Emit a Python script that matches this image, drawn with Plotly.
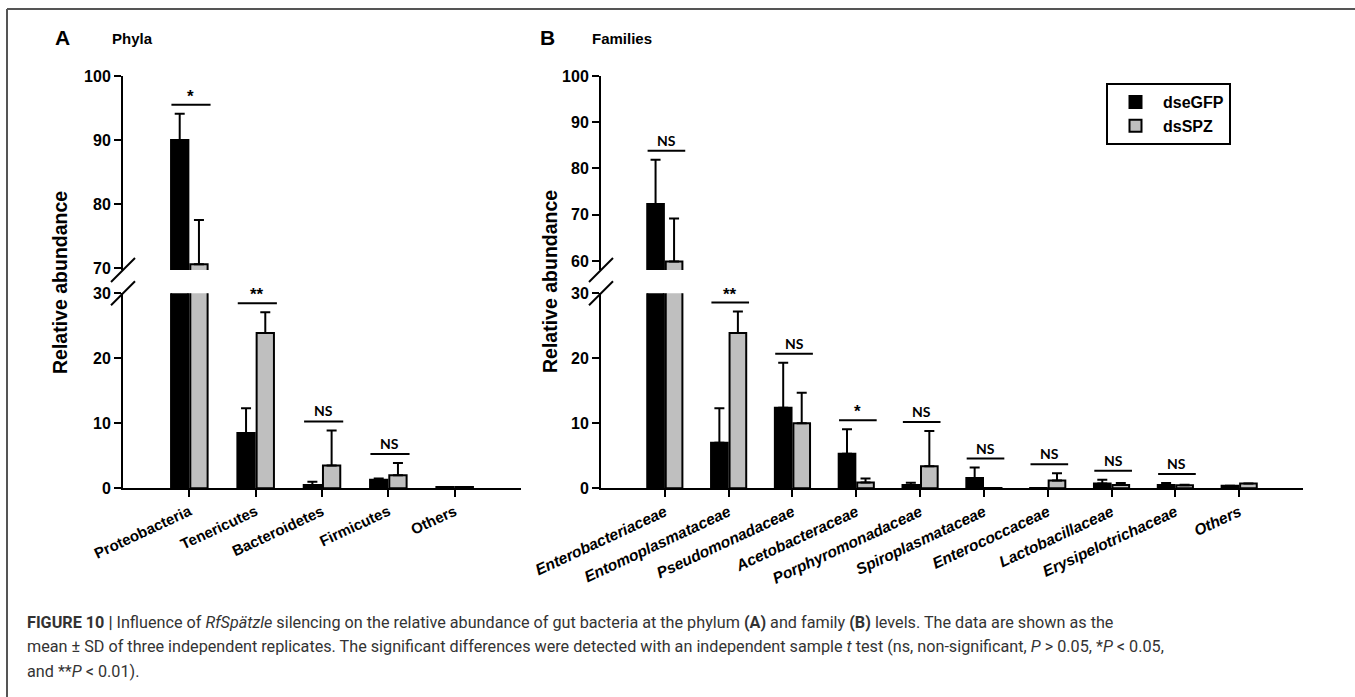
import plotly.graph_objects as go

# ---------------- data ----------------
phyla = ["Proteobacteria", "Tenericutes", "Bacteroidetes", "Firmicutes", "Others"]
phyla_gfp = [90.0, 8.5, 0.5, 1.3, 0.2]
phyla_gfp_sd = [4.1, 3.8, 0.5, 0.2, 0.0]
phyla_spz = [70.6, 23.9, 3.5, 2.0, 0.2]
phyla_spz_sd = [6.9, 3.2, 5.4, 1.9, 0.0]
phyla_sig = ["*", "**", "NS", "NS", ""]

families = ["Enterobacteriaceae", "Entomoplasmataceae", "Pseudomonadaceae",
            "Acetobacteraceae", "Porphyromonadaceae", "Spiroplasmataceae",
            "Enterococcaceae", "Lactobacillaceae", "Erysipelotrichaceae", "Others"]
fam_gfp = [72.3, 7.0, 12.4, 5.3, 0.5, 1.6, 0.05, 0.75, 0.5, 0.4]
fam_gfp_sd = [9.6, 5.3, 6.9, 3.8, 0.35, 1.6, 0.0, 0.55, 0.3, 0.0]
fam_spz = [59.9, 23.9, 10.0, 0.9, 3.4, 0.05, 1.2, 0.5, 0.45, 0.75]
fam_spz_sd = [9.3, 3.3, 4.7, 0.6, 5.4, 0.0, 1.1, 0.3, 0.1, 0.0]
fam_sig = ["NS", "**", "NS", "*", "NS", "NS", "NS", "NS", "NS", ""]

lower_ticks = [0, 10, 20, 30]
upper_ticks_a = [70, 80, 90, 100]
upper_ticks_b = [60, 70, 80, 90, 100]

# ---------------- layout helpers ----------------
W, H = 1355, 697
def px(v):
    return v / W
def py(v):
    return 1 - v / H

FONT = "Liberation Sans, Arial, sans-serif"
BLACK = "#000000"
GRAY = "#bfbfbf"

fig = go.Figure()

def add_bars(xa, ya, cats, gfp, gfp_sd, spz, spz_sd, legend):
    for name, vals, sd, color in [("dseGFP", gfp, gfp_sd, BLACK),
                                  ("dsSPZ", spz, spz_sd, GRAY)]:
        fig.add_trace(go.Bar(
            x=cats, y=vals, name=name, xaxis=xa, yaxis=ya,
            marker=dict(color=color, line=dict(color=BLACK, width=2)),
            error_y=dict(type="data", symmetric=False, array=sd,
                         arrayminus=[0] * len(sd), color=BLACK,
                         thickness=2, width=5),
            showlegend=legend, legendgroup=name, offsetgroup=name,
            hoverinfo="x+y+name"))

# panel A: lower and upper segments of the broken axis
add_bars("x", "y", phyla, phyla_gfp, phyla_gfp_sd, phyla_spz, phyla_spz_sd, True)
add_bars("x", "y2", phyla, phyla_gfp, phyla_gfp_sd, phyla_spz, phyla_spz_sd, False)
# panel B
add_bars("x2", "y3", families, fam_gfp, fam_gfp_sd, fam_spz, fam_spz_sd, False)
add_bars("x2", "y4", families, fam_gfp, fam_gfp_sd, fam_spz, fam_spz_sd, False)

lower_dom = [py(488.3), py(293.3)]
upper_dom = [py(270), py(76)]

yax_common = dict(showline=True, linecolor=BLACK, linewidth=2, ticks="outside",
                  ticklen=7, tickwidth=2, tickcolor=BLACK, showgrid=False,
                  zeroline=False, automargin=False,
                  tickfont=dict(family=FONT, size=16, color=BLACK, weight="bold"))
xax_common = dict(type="category", showline=True, linecolor=BLACK, linewidth=2,
                  ticks="outside", ticklen=7, tickwidth=2, tickcolor=BLACK,
                  showgrid=False, zeroline=False, tickangle=-25, automargin=False)

fig.update_layout(
    width=W, height=H,
    margin=dict(l=0, r=0, t=0, b=0, pad=0, autoexpand=False),
    paper_bgcolor="white", plot_bgcolor="white",
    barmode="group", bargap=0.42, bargroupgap=0.1,
    xaxis=dict(domain=[px(123), px(521)], range=[-1, 5], anchor="y",
               tickfont=dict(family=FONT, size=15, color=BLACK, weight="bold"),
               **xax_common),
    yaxis=dict(domain=lower_dom, range=[0, 30], anchor="x",
               tickvals=lower_ticks, **yax_common),
    yaxis2=dict(domain=upper_dom, range=[69.7, 100], anchor="x",
                tickvals=upper_ticks_a, **yax_common),
    xaxis2=dict(domain=[px(601), px(1303)], range=[-1, 10], anchor="y3",
                tickfont=dict(family=FONT, size=15.5, color=BLACK, weight="bold",
                              style="italic"),
                **xax_common),
    yaxis3=dict(domain=lower_dom, range=[0, 30], anchor="x2",
                tickvals=lower_ticks, **yax_common),
    yaxis4=dict(domain=upper_dom, range=[58.05, 100], anchor="x2",
                tickvals=upper_ticks_b, **yax_common),
    legend=dict(x=px(1106), y=py(83), xanchor="left", yanchor="top",
                bordercolor=BLACK, borderwidth=2, bgcolor="white",
                font=dict(family=FONT, size=16, color=BLACK, weight="bold"),
                itemwidth=45, tracegroupgap=2, traceorder="normal"),
    showlegend=True,
)

shapes = []
annotations = []

# significance brackets (placed ~9 px above the highest error bar)
def add_sig(xref, lower_ref, upper_ref, gfp, gfp_sd, spz, spz_sd, sig,
            upper_px_per_unit):
    for i, s in enumerate(sig):
        if not s:
            continue
        top = max(gfp[i] + gfp_sd[i], spz[i] + spz_sd[i])
        if top > 30:
            yref = upper_ref
            yl = top + 9 / upper_px_per_unit
        else:
            yref = lower_ref
            yl = top + 9 / 6.5
        x0, x1 = i - 0.27, i + 0.32
        shapes.append(dict(type="line", xref=xref, yref=yref, x0=x0, x1=x1,
                           y0=yl, y1=yl, line=dict(color=BLACK, width=2)))
        if s == "NS":
            f = dict(family="Lato, sans-serif", size=14, color=BLACK, weight="bold")
            ysh = 0
        else:
            f = dict(family=FONT, size=17, color=BLACK, weight="bold")
            ysh = -3
        annotations.append(dict(text=s, xref=xref, yref=yref, x=(x0 + x1) / 2,
                                y=yl, xanchor="center", yanchor="bottom",
                                yshift=ysh, showarrow=False, font=f))

add_sig("x", "y", "y2", phyla_gfp, phyla_gfp_sd, phyla_spz, phyla_spz_sd,
        phyla_sig, 194 / 30.3)
add_sig("x2", "y3", "y4", fam_gfp, fam_gfp_sd, fam_spz, fam_spz_sd,
        fam_sig, 194 / 41.95)

# axis-break slashes
for xd, yu, yl in [("x domain", "y2 domain", "y domain"),
                   ("x2 domain", "y4 domain", "y3 domain")]:
    shapes.append(dict(type="line", xref=xd, yref=yu, xsizemode="pixel",
                       ysizemode="pixel", xanchor=0, yanchor=0,
                       x0=-12, x1=12, y0=-12, y1=12,
                       line=dict(color=BLACK, width=2)))
    shapes.append(dict(type="line", xref=xd, yref=yl, xsizemode="pixel",
                       ysizemode="pixel", xanchor=0, yanchor=1,
                       x0=-12, x1=12, y0=-12, y1=12,
                       line=dict(color=BLACK, width=2)))

# outer frame (top and left edges)
shapes.append(dict(type="line", xref="paper", yref="paper", x0=px(7), x1=1,
                   y0=py(9), y1=py(9), line=dict(color="#555555", width=2)))
shapes.append(dict(type="line", xref="paper", yref="paper", x0=px(7), x1=px(7),
                   y0=py(9), y1=0, line=dict(color="#555555", width=2)))

# panel labels and titles
def ptext(text, x, y, size, xanchor="left", angle=0, family=FONT, color=BLACK,
          weight="bold"):
    annotations.append(dict(text=text, xref="paper", yref="paper", x=px(x),
                            y=py(y), xanchor=xanchor, yanchor="middle",
                            showarrow=False, textangle=angle,
                            font=dict(family=family, size=size, color=color,
                                      weight=weight)))

ptext("A", 53, 37, 21)
ptext("Phyla", 110, 38, 15)
ptext("B", 538, 37, 21)
ptext("Families", 590, 38, 15)
ptext("Relative abundance", 60, 282, 19.5, xanchor="center", angle=-90)
ptext("Relative abundance", 550, 282, 19.5, xanchor="center", angle=-90)

# caption
CAP = "Roboto, sans-serif"
cap_lines = [
    "<b>FIGURE 10 |</b> Influence of <i>RfSpätzle</i> silencing on the relative "
    "abundance of gut bacteria at the phylum <b>(A)</b> and family <b>(B)</b> "
    "levels. The data are shown as the",
    "mean ± SD of three independent replicates. The significant differences were "
    "detected with an independent sample <i>t</i> test (ns, non-significant, "
    "<i>P</i> &gt; 0.05, *<i>P</i> &lt; 0.05,",
    "and **<i>P</i> &lt; 0.01).",
]
for k, line in enumerate(cap_lines):
    ptext(line, 25, 622 + 24.5 * k, 16.2, family=CAP, color="#333333",
          weight="normal")

fig.update_layout(shapes=shapes, annotations=annotations)
fig.write_html("out.html")
